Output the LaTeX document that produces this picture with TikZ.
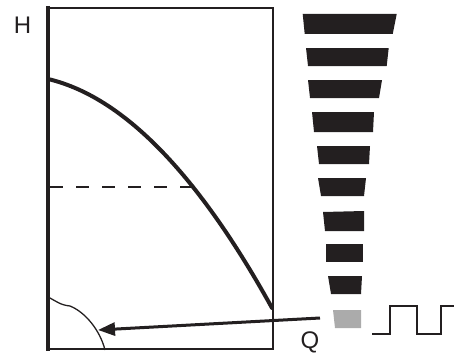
\documentclass[tikz,border=0pt]{standalone}
\usepackage{fontspec}
\setmainfont{Liberation Sans}
\usetikzlibrary{arrows.meta}
\definecolor{ink}{HTML}{231F20}
\definecolor{lightbar}{HTML}{ABABAB}
\begin{document}
\begin{tikzpicture}[x=1pt,y=-1pt,
  bar/.style={fill=ink,draw=none},
  axislabel/.style={font=\fontsize{24}{24}\selectfont,text=ink,inner sep=0pt},
  frame/.style={draw=ink,line width=1.5pt},
  axisline/.style={draw=ink,line width=4pt},
]
\useasboundingbox (0,0) rectangle (454,353);
% frame
\draw[frame] (48,8) -- (273,8) -- (273,349);
\draw[draw=ink,line width=2.5pt] (46,349) -- (274,349);
\draw[axisline] (48,6) -- (48,351);
% labels
\node[axislabel] (H) at (22.5,25) {H};
\node[axislabel,anchor=base] (Q) at (310,348) {Q};
% main curve
\draw[ink,line width=4pt,line cap=round] plot[domain=0:224,samples=60] ({48+\x},{79+0.236*\x+0.003509*\x*\x});
% dashed
\draw[ink,line width=2.5pt,dash pattern=on 13pt off 13pt] (50,187) -- (194,187);
% small curve
\draw[ink,line width=1.3pt] (48,297) .. controls (56,301) and (60,305) .. (70,306) .. controls (85,312) and (100,330) .. (105,350);
% arrow
\coordinate (from) at (320,318);
\coordinate (to) at (98,330);
\draw[ink,line width=3pt,-{Triangle[length=17pt,width=13pt]}] (from) -- (to);
% bars
\fill[bar] (302.7,14) -- (396.7,14) -- (392.7,34) -- (304.7,34) -- cycle;
\fill[bar] (306,48) -- (388.7,48) -- (386.7,66) -- (308,66) -- cycle;
\fill[bar] (308,80) -- (382,80) -- (379,98) -- (310,98) -- cycle;
\fill[bar] (312,112) -- (374,112) -- (373,132) -- (314,132) -- cycle;
\fill[bar] (317,146) -- (370,146) -- (369,164) -- (319,164) -- cycle;
\fill[bar] (318,178) -- (366,178) -- (364,196) -- (321,196) -- cycle;
\fill[bar] (323,212) -- (364,211) -- (364,231) -- (325,231) -- cycle;
\fill[bar] (326,244) -- (363,244) -- (363,262) -- (326,262) -- cycle;
\fill[bar] (328,276) -- (362,276) -- (361,294) -- (331,294) -- cycle;
\fill[lightbar] (333,310) -- (361,310) -- (361,328) -- (335,328) -- cycle;
% square wave
\draw[ink,line width=2pt] (372,334) -- (390,334) -- (390,306) -- (417,306) -- (417,334) -- (441,334) -- (441,306) -- (455,306);
\end{tikzpicture}
\end{document}
